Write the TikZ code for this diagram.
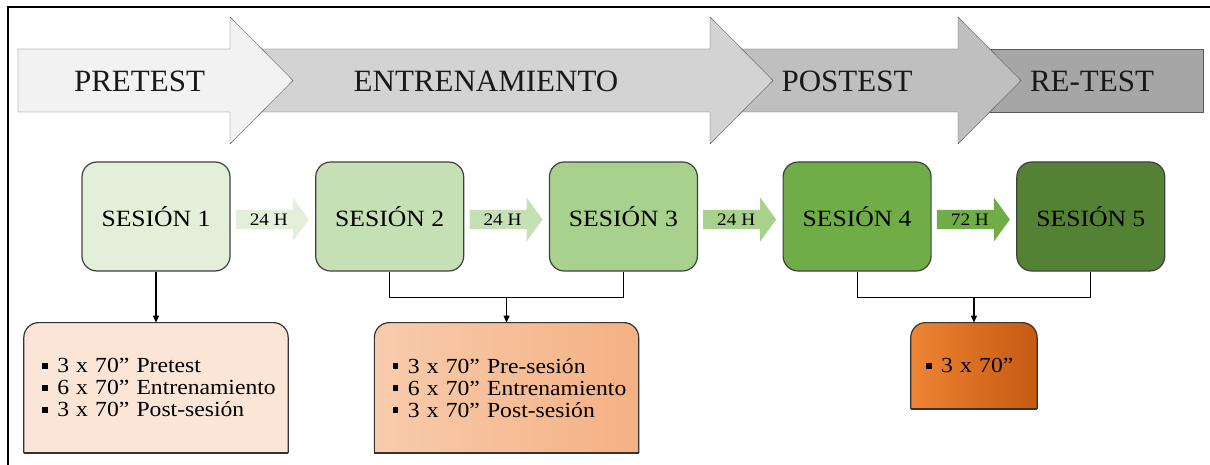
\documentclass[tikz,border=0pt]{standalone}
\usepackage{fontspec}
\setmainfont{Liberation Serif}
\newfontfamily\anchafont[FakeStretch=1.1]{Liberation Serif}
\usetikzlibrary{arrows.meta, positioning, shapes.arrows, backgrounds}

\definecolor{gris1}{HTML}{F2F2F2}
\definecolor{gris2}{HTML}{D3D3D3}
\definecolor{gris3}{HTML}{BFBFBF}
\definecolor{gris4}{HTML}{A6A6A6}
\definecolor{bordegris}{HTML}{595959}
\definecolor{verde1}{HTML}{E2EFD9}
\definecolor{verde2}{HTML}{C5E0B4}
\definecolor{verde3}{HTML}{A9D18E}
\definecolor{verde4}{HTML}{70AD47}
\definecolor{verde5}{HTML}{548235}
\definecolor{melocoton}{HTML}{FBE5D6}
\definecolor{naranja1}{HTML}{F8CBAD}
\definecolor{naranja2}{HTML}{F4B183}
\definecolor{naranja3}{HTML}{EE8434}
\definecolor{naranja4}{HTML}{C55A11}

\newcommand{\cuadro}{\rule[0.2em]{0.26em}{0.26em}\hspace{0.45em}}

\begin{document}
\begin{tikzpicture}[x=1pt, y=-1pt]
	\tikzstyle{etapa} = [inner sep=0pt, text=black!90, font=\fontsize{31}{34}\selectfont]
	\tikzstyle{sesion} = [rectangle, rounded corners=15pt, minimum width=148pt, minimum height=109pt, draw=black!75, line width=1.2pt, font=\anchafont\fontsize{23.3}{26}\selectfont]
	\tikzstyle{horas} = [single arrow, single arrow head extend=9pt, single arrow tip angle=108, minimum width=44pt, minimum height=73pt, inner sep=1pt, font=\anchafont\fontsize{17.5}{19}\selectfont]
	\tikzstyle{detalle} = [rectangle, align=left, inner ysep=0pt, minimum height=130pt, font=\anchafont\fontsize{21.5}{22}\selectfont]
	\tikzstyle{arrow} = [line width=1.2pt, -{Triangle[length=7pt, width=6pt]}]
	\tikzstyle{borde} = [draw=black!80, line width=1.2pt, rounded corners=15pt]

	\useasboundingbox (0,0) rectangle (1210,465);
	\draw[line width=1.5pt] (1210,7) -- (8,7) -- (8,465);

	% fases
	\filldraw[fill=gris4, draw=bordegris] (980,49) rectangle (1203,112);
	\filldraw[fill=gris3, draw=bordegris] (730,49) -- (958,49) -- (958,17) -- (1021,80.5) -- (958,144) -- (958,112) -- (730,112) -- cycle;
	\filldraw[fill=gris2, draw=bordegris] (250,49) -- (710,49) -- (710,17) -- (773,80.5) -- (710,144) -- (710,112) -- (250,112) -- cycle;
	\filldraw[fill=gris1, draw=bordegris] (18,49) -- (230,49) -- (230,17) -- (293,80.5) -- (230,144) -- (230,112) -- (18,112) -- cycle;

	\node[etapa] (pretest) at (139.5,81) {PRETEST};
	\node[etapa] (entrena) at (486,81) {ENTRENAMIENTO};
	\node[etapa] (postest) at (847,81) {POSTEST};
	\node[etapa] (retest) at (1092,81) {RE-TEST};

	% sesiones
	\node[sesion, fill=verde1] (s1) at (156,216.5) {SESIÓN 1};
	\node[sesion, fill=verde2, right=84.5pt of s1] (s2) {SESIÓN 2};
	\node[sesion, fill=verde3, right=84.5pt of s2] (s3) {SESIÓN 3};
	\node[sesion, fill=verde4, right=84.5pt of s3] (s4) {SESIÓN 4};
	\node[sesion, fill=verde5, right=84.5pt of s4] (s5) {SESIÓN 5};

	\node[horas, fill=verde1, right=5pt of s1, yshift=-3pt] (h12) {24 H};
	\node[horas, fill=verde2, right=5pt of s2, yshift=-3pt] (h23) {24 H};
	\node[horas, fill=verde3, right=5pt of s3, yshift=-3pt] (h34) {24 H};
	\node[horas, fill=verde4, right=5pt of s4, yshift=-3pt] (h45) {72 H};

	% series
	\path (s2.south) -- (s3.south) coordinate[pos=0.5] (m23);
	\path (s4.south) -- (s5.south) coordinate[pos=0.5] (m45);

	\node[detalle, text width=228pt, inner xsep=18pt, below=51pt of s1] (b1) {\mbox{\cuadro 3 x 70” Pretest}\\ \mbox{\cuadro 6 x 70” Entrenamiento}\\ \mbox{\cuadro 3 x 70” Post-sesión}};
	\node[detalle, text width=228pt, inner xsep=18pt, below=51pt of m23] (b2) {\mbox{\cuadro 3 x 70” Pre-sesión}\\ \mbox{\cuadro 6 x 70” Entrenamiento}\\ \mbox{\cuadro 3 x 70” Post-sesión}};
	\node[detalle, text width=96pt, inner xsep=15pt, minimum height=86pt, below=51pt of m45] (b3) {\cuadro 3 x 70”};

	\begin{scope}[on background layer]
		\path[borde, fill=melocoton] (b1.south west) -- (b1.north west) -- (b1.north east) -- (b1.south east);
		\path[borde, left color=naranja1, right color=naranja2] (b2.south west) -- (b2.north west) -- (b2.north east) -- (b2.south east);
		\path[borde, left color=naranja3, right color=naranja4] (b3.south west) -- (b3.north west) -- (b3.north east) -- (b3.south east);
	\end{scope}
	\draw[line width=1.2pt, draw=black!80] (b1.south west) -- (b1.south east);
	\draw[line width=1.2pt, draw=black!80] (b2.south west) -- (b2.south east);
	\draw[line width=1.2pt, draw=black!80] (b3.south west) -- (b3.south east);

	% conexiones
	\coordinate[below=26pt of m23] (j23);
	\coordinate[below=26pt of m45] (j45);

	\draw[arrow] (s1) -- (b1);
	\draw[line width=1.2pt] (s2.south) |- (j23) -| (s3.south);
	\draw[arrow] (j23) -- (b2);
	\draw[line width=1.2pt] (s4.south) |- (j45) -| (s5.south);
	\draw[arrow] (j45) -- (b3);

\end{tikzpicture}
\end{document}
